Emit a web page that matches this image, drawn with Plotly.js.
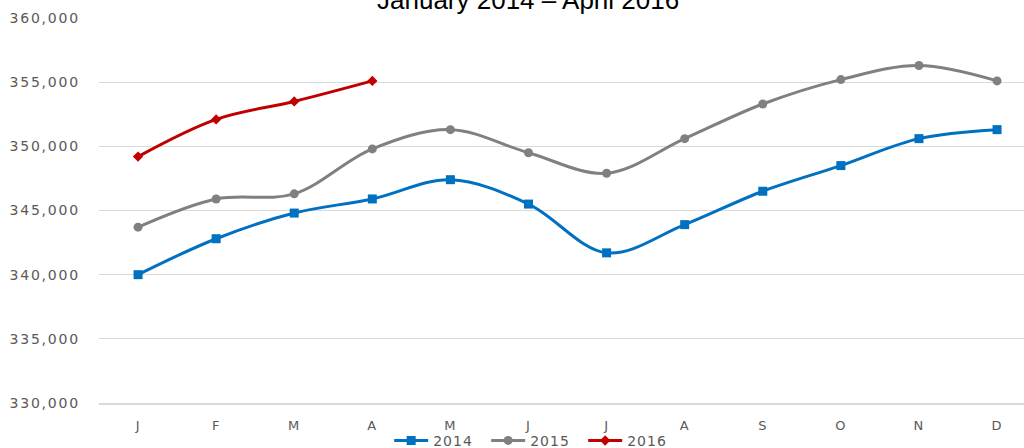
<!DOCTYPE html>
<html>
<head>
<meta charset="utf-8">
<script src="https://cdn.plot.ly/plotly-3.0.1.min.js"></script>
<style>
html,body{margin:0;padding:0;background:#fff;}
#chart{width:1024px;height:448px;}
#chart .ytick text{letter-spacing:1.8px;}
#chart .xtick text{letter-spacing:1px;}
#chart .legendtext{letter-spacing:1px;}
</style>
</head>
<body>
<div id="chart"></div>
<script>
const months = ["J","F","M","A","M","J","J","A","S","O","N","D"];
const monthIdx = [0,1,2,3,4,5,6,7,8,9,10,11];
const values2014 = [340000,342800,344800,345900,347400,345500,341700,343900,346500,348500,350600,351300];
const values2015 = [343700,345900,346300,349800,351300,349500,347900,350600,353300,355200,356300,355100];
const values2016 = [349200,352100,353500,355100];
const titleText = "January 2014 – April 2016";

const font = "DejaVu Sans, Verdana, sans-serif";
function trace(name, y, color, symbol, size){
  return {
    type:"scatter", mode:"lines+markers", name:name,
    x: monthIdx.slice(0, y.length), y:y,
    line:{color:color, width:3, shape:"spline", smoothing:1},
    marker:{color:color, symbol:symbol, size:size}
  };
}
const data = [
  trace("2014", values2014, "#0070C0", "square", 9),
  trace("2015", values2015, "#808080", "circle", 9),
  trace("2016", values2016, "#C00000", "diamond", 8)
];
const layout = {
  width:1024, height:448,
  margin:{l:99, r:0, t:18, b:45, autoexpand:false},
  paper_bgcolor:"#fff", plot_bgcolor:"#fff",
  showlegend:true,
  legend:{orientation:"h", x:0.471, xanchor:"center", yref:"container", y:0.016, yanchor:"middle",
          bgcolor:"rgba(0,0,0,0)", entrywidth:48, entrywidthmode:"pixels",
          font:{family:font, size:14, color:"#595959"}, itemwidth:34, tracegroupgap:0},
  xaxis:{range:[-0.5, 11.345], tickmode:"array", tickvals:monthIdx, ticktext:months,
         showgrid:false, zeroline:false, showline:true, linecolor:"#d9d9d9", linewidth:1.5,
         ticks:"", ticklabelstandoff:10, tickfont:{family:font, size:13, color:"#595959"}, fixedrange:true},
  yaxis:{range:[330000,360000], dtick:5000, tickformat:",d", showgrid:true, gridcolor:"#d9d9d9", gridwidth:1,
         zeroline:false, showline:false, ticks:"", ticklabelstandoff:18,
         tickfont:{family:font, size:14, color:"#595959"}, fixedrange:true},
  annotations:[{text:titleText, xref:"paper", yref:"paper", x:0.464, y:1.046, xanchor:"center", yanchor:"middle",
                showarrow:false, font:{family:"Liberation Sans, Arial, sans-serif", size:26, color:"#000"}}]
};
Plotly.newPlot("chart", data, layout, {displayModeBar:false, staticPlot:true});
</script>
</body>
</html>
